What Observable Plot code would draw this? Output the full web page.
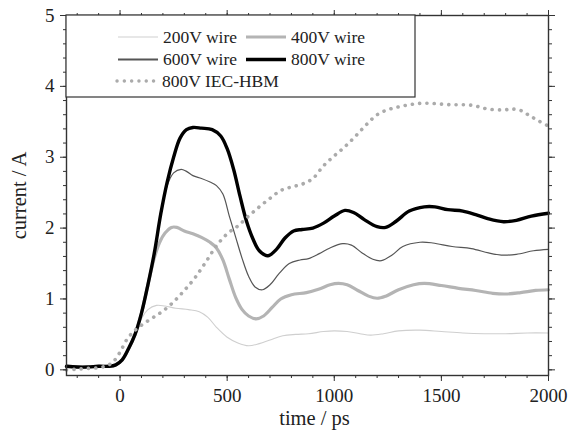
<!DOCTYPE html>
<html><head><meta charset="utf-8">
<script src="https://cdn.jsdelivr.net/npm/d3@7"></script>
<script src="https://cdn.jsdelivr.net/npm/@observablehq/plot@0.6"></script>
<style>body{margin:0;background:#fff}</style>
</head><body><div id="chart"></div>
<script>
// ---- data (time in ps, current in A) ----
const wire200 = [[-250,0.04],[-200,0.03],[-150,0.03],[-100,0.04],[-50,0.05],[-20,0.07],[10,0.14],[40,0.3],[70,0.5],[100,0.72],[130,0.85],[170,0.91],[210,0.9],[260,0.87],[320,0.85],[370,0.82],[410,0.74],[450,0.6],[500,0.46],[550,0.38],[600,0.34],[650,0.37],[700,0.42],[760,0.48],[820,0.5],[880,0.51],[950,0.54],[1000,0.55],[1060,0.54],[1120,0.51],[1170,0.49],[1230,0.51],[1300,0.55],[1400,0.56],[1500,0.54],[1600,0.52],[1700,0.51],[1800,0.51],[1900,0.52],[2000,0.52]];
const wire400 = [[-250,0.05],[-200,0.04],[-150,0.04],[-100,0.05],[-50,0.05],[-20,0.07],[10,0.14],[40,0.3],[70,0.5],[100,0.8],[130,1.2],[160,1.58],[185,1.8],[210,1.93],[240,2.01],[265,2.01],[300,1.96],[340,1.92],[380,1.87],[420,1.8],[450,1.72],[480,1.55],[510,1.28],[540,1.02],[570,0.85],[600,0.76],[635,0.72],[670,0.76],[710,0.88],[750,1.0],[800,1.06],[870,1.09],[930,1.14],[980,1.2],[1020,1.22],[1060,1.2],[1110,1.12],[1160,1.04],[1200,1.01],[1240,1.04],[1300,1.13],[1370,1.2],[1420,1.22],[1500,1.19],[1580,1.15],[1660,1.12],[1740,1.08],[1800,1.07],[1870,1.09],[1940,1.12],[2000,1.13]];
const wire600 = [[-250,0.05],[-200,0.04],[-150,0.04],[-100,0.05],[-50,0.05],[-20,0.07],[10,0.14],[40,0.3],[70,0.5],[100,0.8],[130,1.2],[160,1.65],[190,2.2],[220,2.6],[250,2.78],[285,2.83],[310,2.8],[340,2.74],[380,2.7],[420,2.65],[450,2.6],[480,2.48],[510,2.17],[540,1.87],[570,1.57],[600,1.32],[630,1.17],[665,1.13],[700,1.2],[740,1.35],[790,1.5],[840,1.55],[880,1.57],[930,1.64],[980,1.72],[1040,1.78],[1080,1.76],[1130,1.65],[1180,1.56],[1220,1.54],[1270,1.62],[1320,1.74],[1400,1.8],[1460,1.79],[1550,1.74],[1640,1.71],[1720,1.65],[1780,1.62],[1850,1.63],[1930,1.68],[2000,1.7]];
const wire800 = [[-250,0.05],[-200,0.04],[-150,0.04],[-100,0.05],[-50,0.05],[-20,0.07],[10,0.14],[40,0.3],[70,0.5],[100,0.8],[130,1.2],[160,1.65],[190,2.2],[220,2.65],[250,3.0],[280,3.27],[310,3.39],[340,3.42],[380,3.41],[430,3.39],[470,3.3],[500,3.12],[530,2.83],[560,2.45],[590,2.1],[620,1.85],[650,1.68],[690,1.61],[730,1.7],[770,1.86],[810,1.96],[850,1.98],[900,2.0],[950,2.07],[1000,2.17],[1050,2.25],[1090,2.22],[1140,2.12],[1200,2.02],[1240,2.01],[1290,2.1],[1350,2.24],[1420,2.3],[1470,2.3],[1530,2.26],[1600,2.24],[1660,2.19],[1720,2.13],[1790,2.09],[1850,2.11],[1920,2.17],[2000,2.21]];
const hbm800 = [[-250,0.0],[-200,0.01],[-150,0.02],[-100,0.03],[-60,0.06],[-30,0.12],[0,0.25],[30,0.42],[60,0.53],[100,0.63],[150,0.73],[200,0.83],[250,0.96],[300,1.12],[350,1.3],[400,1.52],[450,1.75],[500,1.92],[550,2.03],[600,2.17],[650,2.3],[700,2.42],[750,2.53],[800,2.58],[850,2.62],[900,2.7],[950,2.88],[1000,3.02],[1050,3.15],[1100,3.3],[1150,3.46],[1200,3.6],[1250,3.67],[1300,3.71],[1350,3.74],[1400,3.76],[1450,3.76],[1500,3.75],[1550,3.74],[1600,3.74],[1650,3.73],[1700,3.69],[1750,3.67],[1800,3.67],[1830,3.68],[1870,3.66],[1910,3.59],[1950,3.52],[2000,3.44]];

const seriesNames = ["200V wire", "400V wire", "600V wire", "800V wire", "800V IEC-HBM"];
const xMajor = [0, 500, 1000, 1500, 2000];
const xMinor = [-200,-100,0,100,200,300,400,500,600,700,800,900,1000,1100,1200,1300,1400,1500,1600,1700,1800,1900,2000];
const yMajor = [0, 1, 2, 3, 4, 5];
const yMinor = [0,0.2,0.4,0.6,0.8,1,1.2,1.4,1.6,1.8,2,2.2,2.4,2.6,2.8,3,3.2,3.4,3.6,3.8,4,4.2,4.4,4.6,4.8,5];

// ---- styles ----
const styles = {
  "200V wire":    {stroke:"#cfcfcf", width:1.1, dash:null, legendWidth:1.2},
  "400V wire":    {stroke:"#b4b4b4", width:3.2, dash:null, legendWidth:3.2},
  "600V wire":    {stroke:"#555555", width:1.2, dash:null, legendWidth:1.8},
  "800V wire":    {stroke:"#000000", width:3.4, dash:null, legendWidth:3.6},
  "800V IEC-HBM": {stroke:"#ababab", width:3.6, dash:"0.1,7.2", legendWidth:3.4}
};
const dataByName = {
  "200V wire": wire200, "400V wire": wire400, "600V wire": wire600,
  "800V wire": wire800, "800V IEC-HBM": hbm800
};
const rows = seriesNames.flatMap(name => dataByName[name].map(([t, i]) => ({name, t, i})));

const font = "'Liberation Serif', 'Times New Roman', serif";
const axisColor = "#333";

const lineMarks = seriesNames.map(name => {
  const s = styles[name];
  return Plot.line(rows.filter(r => r.name === name), {
    x: "t", y: "i", stroke: s.stroke, strokeWidth: s.width,
    strokeDasharray: s.dash, strokeLinecap: "round", strokeLinejoin: "round",
    curve: "catmull-rom"
  });
});

const plot = Plot.plot({
  width: 575, height: 434,
  marginLeft: 66, marginRight: 27, marginTop: 15, marginBottom: 59,
  style: {fontFamily: font, fontSize: "19px", color: "#222", background: "#fff"},
  x: {domain: [-250, 2000]},
  y: {domain: [-0.08, 5]},
  marks: [
    ...lineMarks,
    Plot.axisX({anchor: "bottom", ticks: xMinor, tickSize: 3, fill: "none", stroke: axisColor}),
    Plot.axisX({anchor: "bottom", ticks: xMajor, tickSize: 6, tickPadding: 7, stroke: axisColor, fill: "#222",
      fontSize: 19, tickFormat: d3.format("d"), label: "time / ps", labelAnchor: "center", labelArrow: "none", labelOffset: 49}),
    Plot.axisX({anchor: "top", ticks: xMinor, tickSize: 3, fill: "none", stroke: axisColor}),
    Plot.axisX({anchor: "top", ticks: xMajor, tickSize: 6, fill: "none", stroke: axisColor}),
    Plot.axisY({anchor: "left", ticks: yMinor, tickSize: 3, fill: "none", stroke: axisColor}),
    Plot.axisY({anchor: "left", ticks: yMajor, tickSize: 6, tickPadding: 6, stroke: axisColor, fill: "#222",
      fontSize: 19, tickFormat: d3.format("d"), label: "current / A", labelAnchor: "center", labelArrow: "none", labelOffset: 55}),
    Plot.axisY({anchor: "right", ticks: yMinor, tickSize: 3, fill: "none", stroke: axisColor}),
    Plot.axisY({anchor: "right", ticks: yMajor, tickSize: 6, fill: "none", stroke: axisColor}),
    Plot.frame({stroke: axisColor, strokeWidth: 1.4})
  ]
});
document.getElementById("chart").append(plot);

// ---- typography fixes ----
const svg = d3.select(plot);
svg.selectAll("text").style("font-family", font);
svg.selectAll('g[aria-label="x-axis label"] text, g[aria-label="y-axis label"] text')
  .style("font-size", "20.5px");
svg.selectAll('g[aria-label="x-axis label"]').attr("transform", function() {
  const t = d3.select(this).attr("transform") || "";
  return t + " translate(7,0)";
});

// ---- legend (inside plot, top-left) ----
const lg = svg.append("g").attr("fill", "#222");
lg.append("rect").attr("x", 66).attr("y", 15).attr("width", 349).attr("height", 82)
  .attr("fill", "#fff").attr("stroke", axisColor).attr("stroke-width", 1.2);
const legendLayout = [
  {name: "200V wire", x: 118, y: 37},
  {name: "400V wire", x: 246, y: 37},
  {name: "600V wire", x: 118, y: 59.5},
  {name: "800V wire", x: 246, y: 59.5},
  {name: "800V IEC-HBM", x: 117, y: 81}
];
legendLayout.forEach(({name, x, y}) => {
  const s = styles[name];
  lg.append("line").attr("x1", x).attr("x2", x + 40).attr("y1", y).attr("y2", y)
    .attr("stroke", s.stroke).attr("stroke-width", s.legendWidth)
    .attr("stroke-dasharray", s.dash).attr("stroke-linecap", s.dash ? "round" : "butt");
  lg.append("text").attr("x", x + 45).attr("y", y).attr("dy", "0.33em")
    .style("font-family", font).style("font-size", "17.5px").attr("text-anchor", "start").text(name);
});
</script></body></html>
